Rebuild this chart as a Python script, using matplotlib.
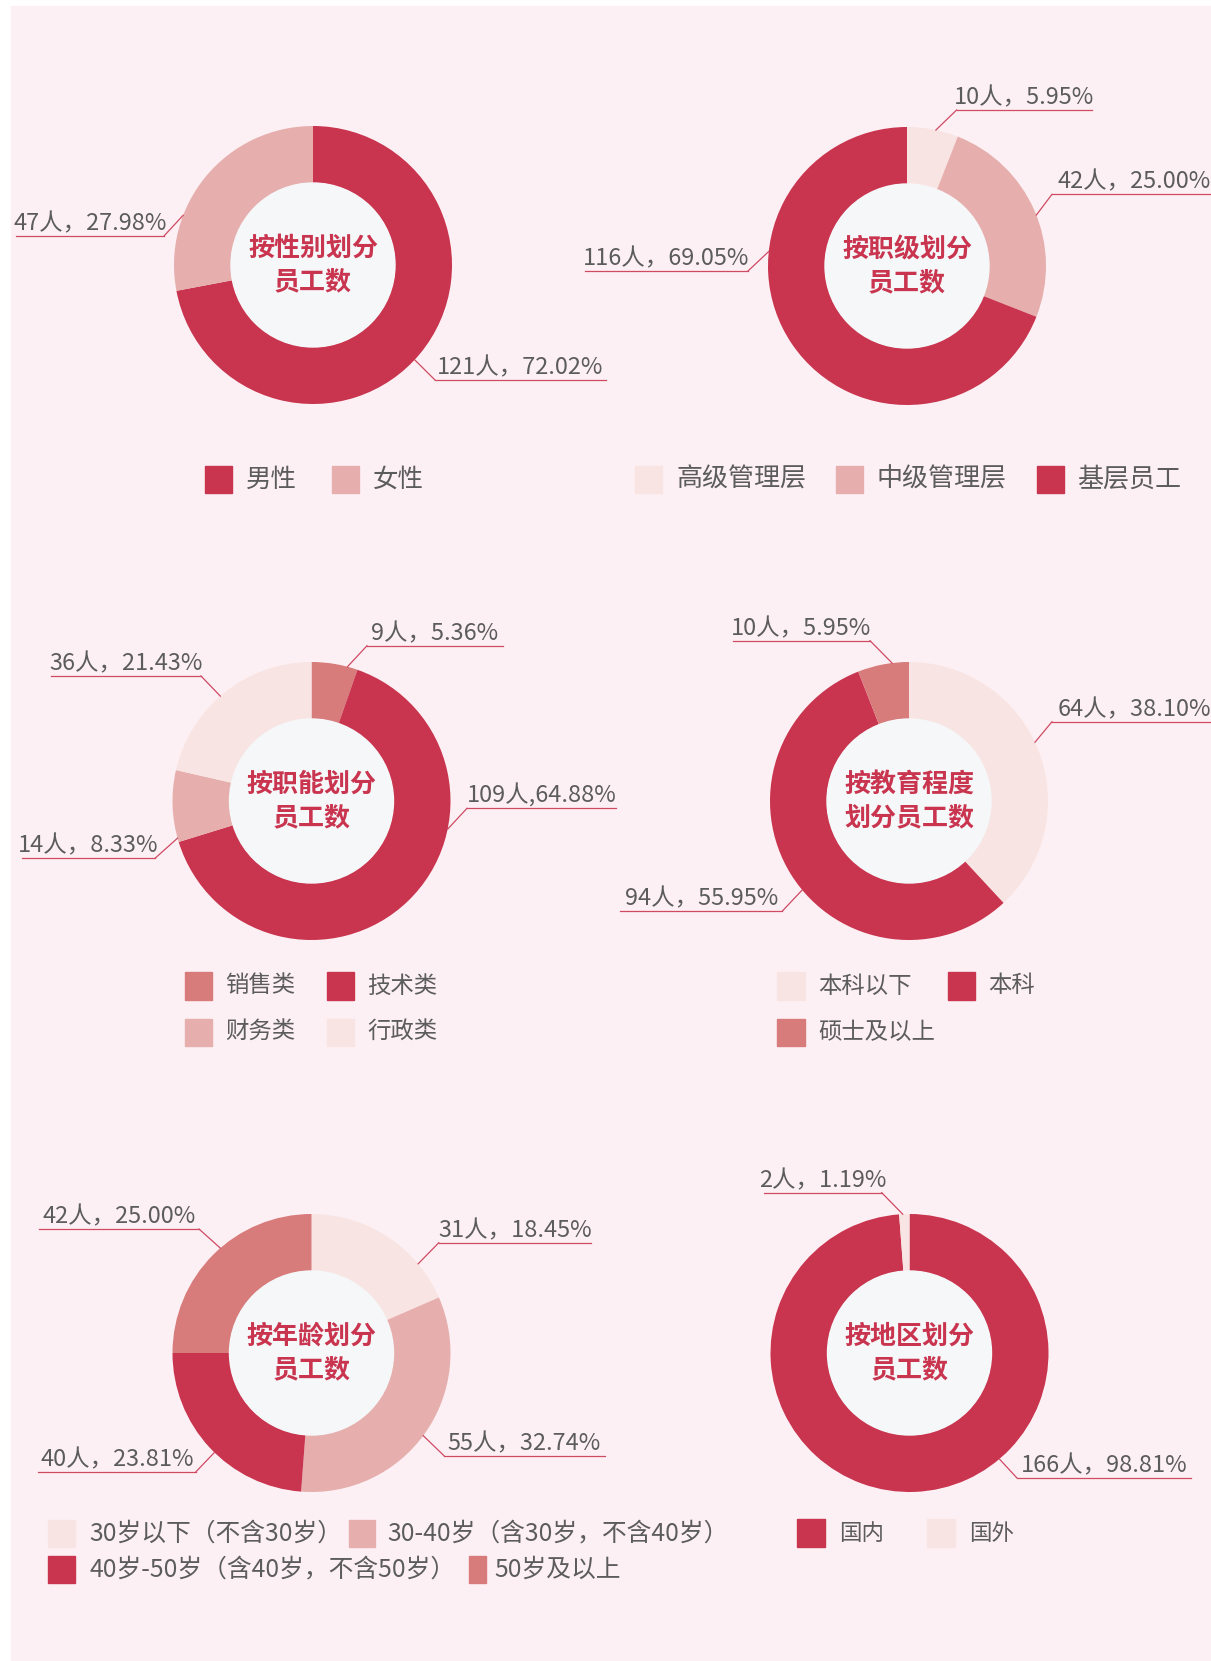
import matplotlib
matplotlib.use("Agg")
import matplotlib.pyplot as plt
from matplotlib.patches import Rectangle, Circle
import numpy as np

plt.rcParams["font.family"] = ["Noto Sans CJK SC", "DejaVu Sans"]

W, H = 1211, 1661
DPI = 100

RED = "#c9344f"
PINK = "#e6afad"
SALMON = "#d77b7b"
LIGHT = "#f8e5e3"
HOLE = "#f5f7f9"
PANEL = "#fdf0f4"
TEXT = "#5c5c5c"
LINE = "#cf4a63"

# ---- data ----
gender_names = ["男性", "女性"]
gender_counts = [121, 47]

rank_names = ["高级管理层", "中级管理层", "基层员工"]
rank_counts = [10, 42, 116]

func_names = ["销售类", "技术类", "财务类", "行政类"]
func_counts = [9, 109, 14, 36]

edu_names = ["本科以下", "本科", "硕士及以上"]
edu_counts = [64, 94, 10]

age_names = ["30岁以下（不含30岁）", "30-40岁（含30岁，不含40岁）",
             "40岁-50岁（含40岁，不含50岁）", "50岁及以上"]
age_counts = [31, 55, 40, 42]

region_names = ["国内", "国外"]
region_counts = [166, 2]


def px(v):
    # pixel size -> points
    return v * 72 / DPI


fig = plt.figure(figsize=(W / DPI, H / DPI), dpi=DPI, facecolor="white")
ax = fig.add_axes([0, 0, 1, 1])
ax.add_patch(Rectangle((11, 0), W - 11, H - 6, color=PANEL, zorder=0))

R_OUT, R_IN = 139, 82


def donut(names, counts, colors, center, title, leaders, legend, legend_px,
          seps=None):
    cx, cy = center
    cy = H - cy
    ax.pie(counts, colors=colors, startangle=90, counterclock=False,
           radius=R_OUT, center=(cx, cy), frame=True,
           wedgeprops=dict(width=R_OUT - R_IN, linewidth=0))
    ax.add_patch(Circle((cx, cy), R_IN, color=HOLE, zorder=2))
    ax.text(cx, cy + 16.5, title[0], ha="center", va="center",
            fontsize=px(26), fontweight="bold", color=RED, zorder=3)
    ax.text(cx, cy - 16.5, title[1], ha="center", va="center",
            fontsize=px(26), fontweight="bold", color=RED, zorder=3)

    total = sum(counts)
    if seps is None:
        seps = ["，"] * len(counts)
    for n, sep, (ang, ex, ey, far) in zip(counts, seps, leaders):
        a = np.deg2rad(ang)
        sx, sy = cx + R_OUT * np.cos(a), cy + R_OUT * np.sin(a)
        ax.plot([sx, ex], [sy, H - ey], color=LINE, lw=0.9, zorder=3)
        ax.plot([ex, far], [H - ey, H - ey], color=LINE, lw=0.9, zorder=3)
        ax.text((ex + far) / 2, H - ey + 5.5, f"{n}人{sep}{n / total * 100:.2f}%",
                ha="center", va="baseline", fontsize=px(23.5), color=TEXT,
                zorder=3)

    for name, col, (lx, ly, lw, tx) in zip(names, colors, legend):
        ax.add_patch(Rectangle((lx, H - ly - 13.7), lw, 27.4, color=col,
                               zorder=3))
        ax.text(lx + tx, H - ly, name, ha="left", va="center",
                fontsize=px(legend_px), color=TEXT, zorder=3)


donut(gender_names, gender_counts, [RED, PINK], (313, 265),
      ("按性别划分", "员工数"),
      [(-43, 435, 380, 606), (159, 164, 236, 16)],
      [(205, 479.5, 27.4, 41), (332, 479.5, 27.4, 41)], 25.5)

donut(rank_names, rank_counts, [LIGHT, PINK, RED], (907, 266),
      ("按职级划分", "员工数"),
      [(78, 956.6, 110, 1092), (21.5, 1052, 194.3, 1216),
       (174, 748, 271, 585)],
      [(635, 479.5, 27.4, 41), (835.8, 479.5, 27.4, 41),
       (1036.5, 479.5, 27.4, 41)], 26)

donut(func_names, func_counts, [SALMON, RED, PINK, LIGHT], (311.5, 801),
      ("按职能划分", "员工数"),
      [(75, 367, 645.7, 503), (-11.7, 467, 808.3, 616),
       (195.5, 155, 858.3, 22), (131, 201, 676, 51)],
      [(184.5, 986, 27.4, 41), (326.5, 986, 27.4, 41),
       (184.5, 1032.4, 27.4, 41), (326.5, 1032.4, 27.4, 41)], 23.4,
      seps=["，", ",", "，", "，"])

donut(edu_names, edu_counts, [LIGHT, RED, SALMON], (909, 801),
      ("按教育程度", "划分员工数"),
      [(25, 1052, 721.7, 1216), (219.8, 782.4, 911, 620),
       (97, 870, 640.7, 732.5)],
      [(777.3, 986, 27.4, 41), (947.6, 986, 27.4, 41),
       (777.3, 1032.4, 27.4, 41)], 23.4)

donut(age_names, age_counts, [LIGHT, PINK, RED, SALMON], (311.5, 1353),
      ("按年龄划分", "员工数"),
      [(39.9, 438.8, 1242.7, 591), (-36.5, 444, 1455.7, 605),
       (225.7, 196, 1471.7, 37.6), (131, 199, 1229, 38.8)],
      [(48, 1533.7, 27.4, 41), (349, 1533.7, 25.7, 38),
       (48, 1569.7, 27.4, 41), (469.4, 1569.7, 16.3, 24.6)], 24.8)

donut(region_names, region_counts, [RED, LIGHT], (909.5, 1353),
      ("按地区划分", "员工数"),
      [(-49.7, 1016.7, 1477.7, 1190.7), (92.8, 881.7, 1192.7, 764)],
      [(797.3, 1533, 27.7, 42), (927.3, 1533, 27.7, 42)], 22.5)

ax.set_xlim(0, W)
ax.set_ylim(0, H)
ax.set_aspect("equal")
ax.axis("off")

fig.savefig("out.png", dpi=DPI, facecolor="white")
